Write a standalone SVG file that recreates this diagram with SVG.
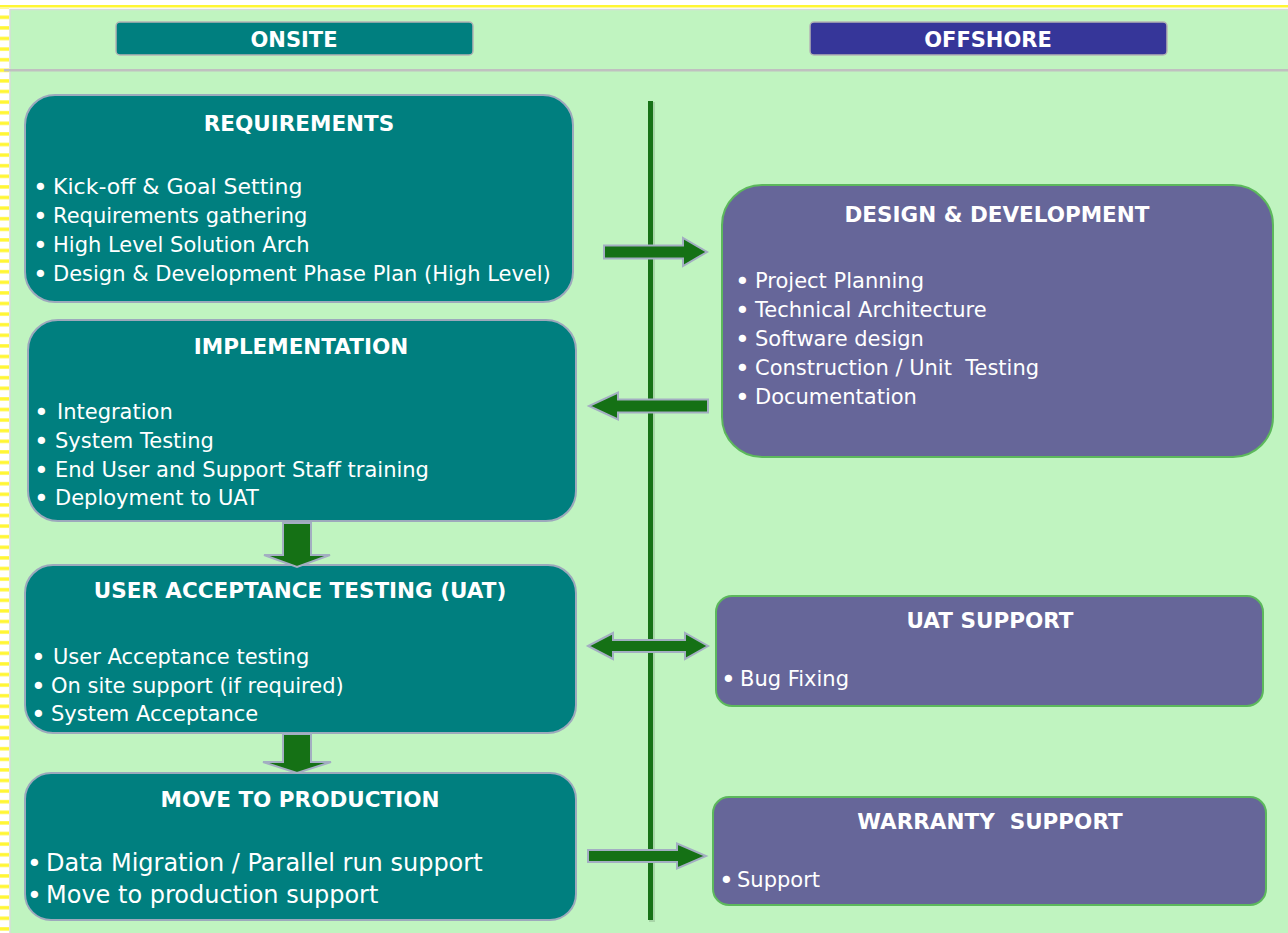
<svg xmlns="http://www.w3.org/2000/svg" width="1288" height="933" viewBox="0 0 1288 933">
  <defs>
    <pattern id="stripes" x="0" y="0" width="10" height="10.6" patternUnits="userSpaceOnUse">
      <rect x="0" y="5" width="10" height="3.4" fill="#FFF633"/>
    </pattern>
  </defs>
  <style>
    text { font-family: "DejaVu Sans", "Liberation Sans", sans-serif; fill: #FFFFFF; }
    .title { font-weight: bold; font-size: 21.5px; text-anchor: middle; }
    .head { font-weight: bold; font-size: 21px; text-anchor: middle; }
    .item { font-size: 21px; }
    .big { font-size: 24px; }
    .dot { font-size: 25px; }
    .onsite { fill: #007F7F; stroke: #9DA9BC; stroke-width: 2; }
    .offshore { fill: #666699; stroke: #5CB85C; stroke-width: 2; }
    .arrow { fill: #157115; stroke: #A3AEC2; stroke-width: 2; stroke-linejoin: miter; }
  </style>

  <!-- page frame -->
  <rect x="0" y="0" width="1288" height="933" fill="#FFFFFF"/>
  <rect x="0" y="5" width="1288" height="2.5" fill="#FFF633"/>
  <rect x="0" y="8" width="9" height="925" fill="url(#stripes)"/>
  <rect x="10" y="9.5" width="1280" height="926" fill="#C0F4C0" stroke="#D6DCD6" stroke-width="1.5"/>
  <line x1="4" y1="70.2" x2="1288" y2="70.2" stroke="#C0C0C0" stroke-width="2.6"/>

  <!-- column headers -->
  <g id="onsite-header">
    <rect x="116" y="22" width="357" height="33" rx="4" fill="#007F7F" stroke="#B4B4B4" stroke-width="1.5"/>
    <text class="head" x="294" y="47">ONSITE</text>
  </g>
  <g id="offshore-header">
    <rect x="810" y="22" width="357" height="33" rx="4" fill="#363699" stroke="#B4B4B4" stroke-width="1.5"/>
    <text class="head" x="988" y="47">OFFSHORE</text>
  </g>

  <!-- divider between onsite and offshore -->
  <line x1="652" y1="102" x2="652" y2="922" stroke="#000000" stroke-opacity="0.12" stroke-width="6"/>
  <line x1="650.5" y1="101" x2="650.5" y2="920" stroke="#177217" stroke-width="5"/>

  <!-- onsite phases -->
  <g id="requirements">
    <rect class="onsite" x="25" y="95" width="548" height="207" rx="30"/>
    <text class="title" x="299" y="131">REQUIREMENTS</text>
    <text class="item" x="33" y="194" style="font-size:22px"><tspan class="dot" dy="1.5">•</tspan><tspan x="53" dy="-1.5">Kick-off &amp; Goal Setting</tspan></text>
    <text class="item" x="33" y="223"><tspan class="dot" dy="1.5">•</tspan><tspan x="53" dy="-1.5">Requirements gathering</tspan></text>
    <text class="item" x="33" y="252"><tspan class="dot" dy="1.5">•</tspan><tspan x="53" dy="-1.5">High Level Solution Arch</tspan></text>
    <text class="item" x="33" y="281"><tspan class="dot" dy="1.5">•</tspan><tspan x="53" dy="-1.5">Design &amp; Development Phase Plan (High Level)</tspan></text>
  </g>

  <g id="implementation">
    <rect class="onsite" x="28" y="320" width="548" height="201" rx="30"/>
    <text class="title" x="301" y="354">IMPLEMENTATION</text>
    <text class="item" x="34" y="419"><tspan class="dot" dy="1.5">•</tspan><tspan x="57" dy="-1.5">Integration</tspan></text>
    <text class="item" x="34" y="448"><tspan class="dot" dy="1.5">•</tspan><tspan x="55" dy="-1.5">System Testing</tspan></text>
    <text class="item" x="34" y="477"><tspan class="dot" dy="1.5">•</tspan><tspan x="55" dy="-1.5">End User and Support Staff training</tspan></text>
    <text class="item" x="34" y="505"><tspan class="dot" dy="1.5">•</tspan><tspan x="55" dy="-1.5">Deployment to UAT</tspan></text>
  </g>

  <g id="uat">
    <rect class="onsite" x="25" y="565" width="551" height="168" rx="28"/>
    <text class="title" x="300" y="598">USER ACCEPTANCE TESTING (UAT)</text>
    <text class="item" x="31" y="664"><tspan class="dot" dy="1.5">•</tspan><tspan x="53" dy="-1.5">User Acceptance testing</tspan></text>
    <text class="item" x="31" y="693"><tspan class="dot" dy="1.5">•</tspan><tspan x="51" dy="-1.5">On site support (if required)</tspan></text>
    <text class="item" x="31" y="721"><tspan class="dot" dy="1.5">•</tspan><tspan x="51" dy="-1.5">System Acceptance</tspan></text>
  </g>

  <g id="move-to-production">
    <rect class="onsite" x="25" y="773" width="551" height="147" rx="26"/>
    <text class="title" x="300" y="807">MOVE TO PRODUCTION</text>
    <text class="item big" x="27" y="871"><tspan class="dot" dy="1">•</tspan><tspan x="46" dy="-1">Data Migration / Parallel run support</tspan></text>
    <text class="item big" x="27" y="903"><tspan class="dot" dy="1">•</tspan><tspan x="46" dy="-1">Move to production support</tspan></text>
  </g>

  <!-- offshore phases -->
  <g id="design-development">
    <rect class="offshore" x="722" y="185" width="551" height="272" rx="40"/>
    <text class="title" x="997" y="222">DESIGN &amp; DEVELOPMENT</text>
    <text class="item" x="735" y="288"><tspan class="dot" dy="1.5">•</tspan><tspan x="755" dy="-1.5">Project Planning</tspan></text>
    <text class="item" x="735" y="317"><tspan class="dot" dy="1.5">•</tspan><tspan x="755" dy="-1.5">Technical Architecture</tspan></text>
    <text class="item" x="735" y="346"><tspan class="dot" dy="1.5">•</tspan><tspan x="755" dy="-1.5">Software design</tspan></text>
    <text class="item" x="735" y="375" xml:space="preserve"><tspan class="dot" dy="1.5">•</tspan><tspan x="755" dy="-1.5">Construction / Unit  Testing</tspan></text>
    <text class="item" x="735" y="404"><tspan class="dot" dy="1.5">•</tspan><tspan x="755" dy="-1.5">Documentation</tspan></text>
  </g>

  <g id="uat-support">
    <rect class="offshore" x="716" y="596" width="547" height="110" rx="16"/>
    <text class="title" x="990" y="628">UAT SUPPORT</text>
    <text class="item" x="721" y="686"><tspan class="dot" dy="1.5">•</tspan><tspan x="740" dy="-1.5">Bug Fixing</tspan></text>
  </g>

  <g id="warranty-support">
    <rect class="offshore" x="713" y="797" width="553" height="108" rx="16"/>
    <text class="title" x="990" y="829" xml:space="preserve">WARRANTY  SUPPORT</text>
    <text class="item" x="719" y="887"><tspan class="dot" dy="1.5">•</tspan><tspan x="737" dy="-1.5">Support</tspan></text>
  </g>

  <!-- hand-offs between phases -->
  <g id="connectors">
    <polygon class="arrow" points="604,245.5 683,245.5 683,238 707,252 683,266 683,258.5 604,258.5"/>
    <polygon class="arrow" points="708,399.5 618,399.5 618,392.5 589,406 618,419.5 618,412.5 708,412.5"/>
    <polygon class="arrow" points="283,523 311,523 311,555 330,555 297,567 264,555 283,555"/>
    <polygon class="arrow" points="588,646 613,633 613,640 685,640 685,633 708,646 685,659 685,652 613,652 613,659"/>
    <polygon class="arrow" points="283,734 311,734 311,762 331,762 297,773 263,762 283,762"/>
    <polygon class="arrow" points="588,850 677,850 677,843.5 706,856 677,868.5 677,862 588,862"/>
  </g>
</svg>
